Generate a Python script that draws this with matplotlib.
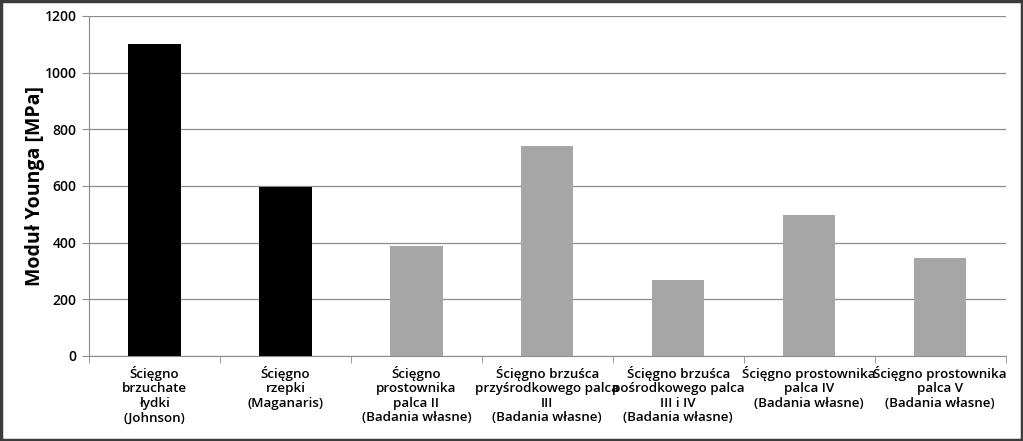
import matplotlib.pyplot as plt
import matplotlib.patches as mpatches
import numpy as np

plt.rcParams['font.family'] = ['Open Sans', 'DejaVu Sans']

categories = ['Ścięgno\nbrzuchate\nłydki\n(Johnson)',
              'Ścięgno\nrzepki\n(Maganaris)',
              'Ścięgno\nprostownika\npalca II\n(Badania własne)',
              'Ścięgno brzuśca\nprzyśrodkowego palca\nIII\n(Badania własne)',
              'Ścięgno brzuśca\npośrodkowego palca\nIII i IV\n(Badania własne)',
              'Ścięgno prostownika\npalca IV\n(Badania własne)',
              'Ścięgno prostownika\npalca V\n(Badania własne)']
values = [1100, 595, 388, 742, 268, 497, 346]
colors = ['#000000', '#000000', '#a6a6a6', '#a6a6a6', '#a6a6a6', '#a6a6a6', '#a6a6a6']
yticks = [0, 200, 400, 600, 800, 1000, 1200]

fig = plt.figure(figsize=(10.23, 4.41), dpi=100)
ax = fig.add_axes([0.087, 0.193, 0.896, 0.771])

x = np.arange(len(categories))
ax.bar(x, values, width=0.4, color=colors, zorder=3)

ax.set_xlim(-0.5, len(categories) - 0.5)
ax.set_ylim(0, 1200)
ax.set_yticks(yticks)
ax.yaxis.grid(True, color='#8c8c8c', linewidth=0.9, zorder=0)

ax.set_xticks(x)
ax.set_xticklabels(categories, fontsize=9.6, fontweight='semibold', linespacing=1.16)
ax.set_xticks(np.arange(len(categories) + 1) - 0.5, minor=True)
ax.tick_params(axis='x', which='major', length=0, pad=7)
ax.tick_params(axis='x', which='minor', length=5, color='#8c8c8c', direction='out')
ax.tick_params(axis='y', length=5, color='#8c8c8c', labelsize=10, pad=4)
for lab in ax.get_yticklabels():
    lab.set_fontweight('semibold')

for s in ['top', 'right']:
    ax.spines[s].set_visible(False)
for s in ['left', 'bottom']:
    ax.spines[s].set_color('#8c8c8c')

ax.set_ylabel('Moduł Younga [MPa]', fontsize=14, fontweight='bold', labelpad=0)

border = mpatches.Rectangle((0.001, 0.002), 0.998, 0.996, transform=fig.transFigure,
                            fill=False, edgecolor='#3c3c3c', linewidth=2.5)
fig.patches.append(border)

fig.savefig('out.png', dpi=100)
